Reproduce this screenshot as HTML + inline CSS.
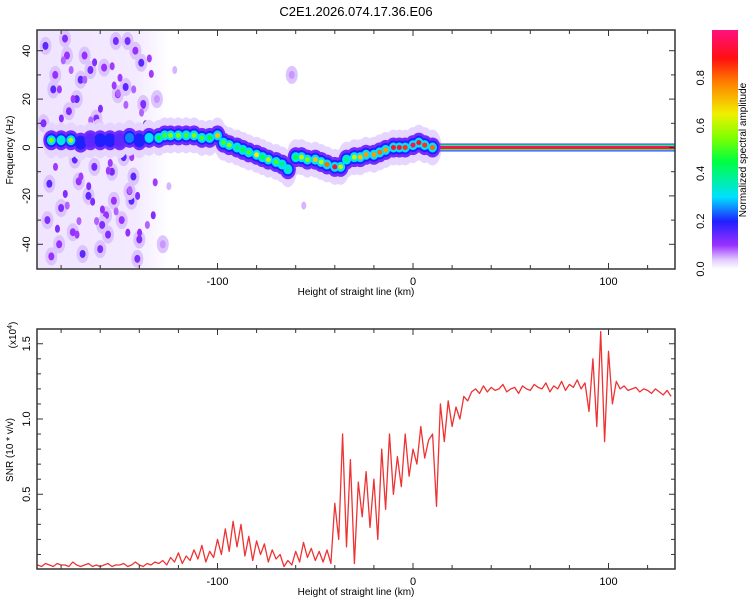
<!DOCTYPE html>
<html><head><meta charset="utf-8"><style>
body{margin:0;background:#fff;}
svg{display:block;font-family:"Liberation Sans",sans-serif;}
</style></head><body>
<svg id="chart" width="750" height="600" viewBox="0 0 750 600">
<defs>
<clipPath id="clipTop"><rect x="37" y="30" width="638" height="239"/></clipPath>
<clipPath id="clipBot"><rect x="37" y="329" width="638" height="240"/></clipPath>
<linearGradient id="cbar" x1="0" y1="1" x2="0" y2="0">
<stop offset="0" stop-color="#ffffff"/><stop offset="0.04" stop-color="#e0c8ff"/>
<stop offset="0.1" stop-color="#9a30ff"/><stop offset="0.2" stop-color="#2020ff"/>
<stop offset="0.3" stop-color="#00e0ff"/><stop offset="0.45" stop-color="#00ff40"/>
<stop offset="0.55" stop-color="#80ff00"/><stop offset="0.65" stop-color="#f0f000"/>
<stop offset="0.78" stop-color="#ff8000"/><stop offset="0.88" stop-color="#ff1010"/>
<stop offset="1" stop-color="#ff1080"/></linearGradient>
<linearGradient id="nfade" x1="0" y1="0" x2="1" y2="0">
<stop offset="0" stop-color="#f0e4ff"/><stop offset="0.75" stop-color="#f3eaff"/><stop offset="1" stop-color="#ffffff"/></linearGradient>
</defs>
<text x="356" y="16" font-size="13" text-anchor="middle">C2E1.2026.074.17.36.E06</text>
<g id="topPanel"></g>
<g id="botPanel"></g>
<g id="cbPanel"></g>
</svg>
<script>
const xTicksMajor=[-100,0,100];
const topYTicks=[-40,-20,0,20,40];
const botYTicks=[0.5,1.0,1.5];
const cbTicks=[0.0,0.2,0.4,0.6,0.8];
// ridge of spectrogram
const ridgeKm=[-185,-180,-175,-170,-165,-160,-155,-150,-145,-140,-135,-130,-127,-124,-120,-116,-112,-108,-104,-100,-97,-94,-90,-87,-84,-80,-77,-74,-70,-67,-64,-60,-57,-54,-50,-47,-44,-40,-37,-34,-30,-27,-24,-20,-17,-14,-10,-7,-4,0,3,6,10];
const ridgeHz=[3,3,3,2,3,3,3,3,4,3,4,4,5,5,5,5,5,4,4,5,2,1,0,-1,-2,-3,-4,-5,-6,-7,-9,-4,-4,-5,-5,-6,-7,-8,-8,-5,-4,-4,-3,-3,-2,-1,0,0,0,1,2,1,0];
const ridgeAmp=[0.55,0.35,0.6,0.2,0.15,0.2,0.2,0.15,0.25,0.2,0.3,0.45,0.5,0.55,0.55,0.5,0.55,0.5,0.45,0.7,0.5,0.55,0.4,0.45,0.5,0.65,0.45,0.6,0.5,0.4,0.35,0.45,0.6,0.55,0.7,0.6,0.8,0.9,0.6,0.4,0.6,0.7,0.75,0.75,0.8,0.75,0.9,0.9,0.85,0.95,0.9,0.85,0.8];
const lineStartKm=12, lineHz=0, lineAmp=0.95;
// noise speckles (left region)
const noiseKm=[-188,-183,-178,-172,-168,-162,-158,-152,-147,-142,-138,-186,-180,-174,-166,-160,-154,-149,-144,-140,-185,-176,-170,-163,-157,-150,-145,-139,-189,-181,-173,-165,-156,-151,-143,-187,-177,-169,-161,-153,-146,-141,-184,-171,-159,-148,-62,-128,-131];
const noiseHz=[42,30,45,20,38,12,33,44,25,40,18,-15,-25,-35,-20,-42,-10,-30,-22,-38,-45,15,28,-8,-28,5,-18,35,10,-40,-5,32,-36,22,-12,-30,38,-44,8,-22,44,-46,24,-14,-32,-4,30,-40,20];
const noiseAmp=[0.15,0.1,0.12,0.15,0.1,0.12,0.1,0.13,0.15,0.1,0.12,0.15,0.12,0.1,0.15,0.12,0.13,0.1,0.15,0.12,0.1,0.12,0.15,0.13,0.1,0.12,0.1,0.15,0.12,0.1,0.15,0.13,0.12,0.1,0.15,0.12,0.1,0.15,0.12,0.1,0.13,0.12,0.15,0.1,0.12,0.15,0.06,0.06,0.06];
const noiseFieldKm=[-192,-125];
// SNR series (x1e4), 2 km step starting at -192
const snrStartKm=-192, snrStepKm=2;
const snrValues=[0.03,0.02,0.04,0.03,0.02,0.04,0.03,0.03,0.02,0.05,0.03,0.02,0.03,0.04,0.02,0.03,0.02,0.03,0.04,0.02,0.03,0.03,0.04,0.02,0.03,0.05,0.03,0.02,0.04,0.03,0.05,
0.04,0.06,0.03,0.08,0.05,0.11,0.04,0.09,0.06,0.13,
0.07,0.16,0.05,0.12,0.08,0.2,0.1,0.27,0.12,0.32,0.15,0.3,0.09,0.22,0.06,0.19,
0.1,0.17,0.05,0.13,0.07,0.1,0.02,0.06,0.03,
0.12,0.05,0.18,0.08,0.14,0.06,0.12,0.05,0.13,0.04,
0.44,0.2,0.9,0.15,0.73,0.04,
0.58,0.35,0.65,0.28,0.6,0.2,0.8,0.4,0.9,0.5,0.75,0.55,0.9,0.62,0.8,0.7,0.95,0.74,0.86,
0.9,0.42,
1.1,0.85,1.12,0.95,1.08,1.0,1.15,1.12,1.18,
1.2,1.17,1.22,1.18,1.21,1.19,1.2,1.23,1.18,1.2,1.21,1.17,1.22,1.2,1.19,1.23,1.21,1.2,1.24,1.18,1.22,1.2,1.25,1.19,1.23,1.21,1.26,1.2,1.24,
1.05,1.4,0.95,1.58,0.85,1.45,
1.1,1.25,1.2,1.22,1.19,1.2,1.21,1.18,1.2,1.19,1.17,1.2,1.18,1.16,1.19,1.15];

const NS='http://www.w3.org/2000/svg';
function mk(tag,attrs,parent){const e=document.createElementNS(NS,tag);for(const k in attrs)e.setAttribute(k,attrs[k]);parent.appendChild(e);return e;}
const L=37,R=675;
const xS=km=>413+(km)*1.955;
const yTop=hz=>147.5-hz*2.42;
const yBot=v=>569.5-v*150.5;
function cmap(a){
 const st=[[0,[255,255,255]],[0.04,[224,200,255]],[0.1,[154,48,255]],[0.2,[32,32,255]],[0.3,[0,224,255]],[0.45,[0,255,64]],[0.55,[128,255,0]],[0.65,[240,240,0]],[0.78,[255,128,0]],[0.88,[255,16,16]],[1,[255,16,128]]];
 for(let i=1;i<st.length;i++){if(a<=st[i][0]){const t=(a-st[i-1][0])/(st[i][0]-st[i-1][0]);const c=st[i-1][1].map((v,j)=>Math.round(v+(st[i][1][j]-v)*t));return `rgb(${c})`;}}
 return 'rgb(255,16,128)';
}
const topG=document.getElementById('topPanel'), botG=document.getElementById('botPanel'), cbG=document.getElementById('cbPanel');
// ----- top panel
const tg=mk('g',{'clip-path':'url(#clipTop)'},topG);
const nf=mk('rect',{x:xS(noiseFieldKm[0]),y:30,width:xS(noiseFieldKm[1])-xS(noiseFieldKm[0]),height:239,fill:'url(#nfade)'},tg);


for(let i=0;i<noiseKm.length;i++){
 const cx=xS(noiseKm[i]), cy=yTop(noiseHz[i]);
 const e=mk('ellipse',{cx:cx,cy:cy,rx:6,ry:9,fill:'#dcc4ff'},tg);
 
 
 const d=mk('ellipse',{cx:cx,cy:cy,rx:3,ry:4,fill:cmap(noiseAmp[i])},tg);
 
 
}
for(let i=0;i<noiseKm.length;i++){
 const cx=xS(noiseKm[i])+12, cy=yTop(-noiseHz[i]*0.8);
 const d=mk('ellipse',{cx:cx,cy:cy,rx:2.5,ry:4,fill:cmap(noiseAmp[i]*0.8)},tg);
 
 
}
// ridge haze
for(let i=0;i<ridgeKm.length;i++){
 const e=mk('ellipse',{cx:xS(ridgeKm[i]),cy:yTop(ridgeHz[i]),rx:9,ry:18,fill:'#e6d6ff'},tg);
 
 
}
// constant line
const lx=xS(lineStartKm), ly=yTop(lineHz);
[[0.15,4],[0.28,3.2],[0.5,2.4],[lineAmp,1.5]].forEach(([a,h])=>{
 const r=mk('rect',{x:lx,y:ly-h,width:R-lx,height:2*h,fill:cmap(a)},tg);
 
 
});
const layers=[[0.13,8,10],[0.2,6,7],[0.3,4.5,5],[1,2.5,2.5]];
layers.forEach(([f,rx,ry],li)=>{
 for(let i=0;i<ridgeKm.length;i++){
  const a=ridgeAmp[i]; const amp = li===layers.length-1? a : Math.min(a,f);
  const cx=xS(ridgeKm[i]), cy=yTop(ridgeHz[i]);
  const e=mk('ellipse',{cx:cx,cy:cy,rx:rx,ry:ry,fill:cmap(amp)},tg);
  
  
 }
});
mk('rect',{x:L,y:30,width:R-L,height:239,fill:'none',stroke:'#333','stroke-width':1.5},topG);
function xAxis(g,y0,y1,lblY){
 for(let km=-180;km<=130;km+=20){
  const x=xS(km); const maj=xTicksMajor.includes(km);
  mk('line',{x1:x,y1:y1,x2:x,y2:y1-(maj?6:4),stroke:'#333'},g);
  mk('line',{x1:x,y1:y0,x2:x,y2:y0+(maj?6:4),stroke:'#333'},g);
 }
 xTicksMajor.forEach(km=>{const t=mk('text',{x:xS(km),y:lblY,'font-size':11,'text-anchor':'middle'},g);t.textContent=km;
  });
 const t=mk('text',{x:356,y:lblY+10,'font-size':10,'text-anchor':'middle'},g);t.textContent='Height of straight line (km)';
 
}
xAxis(topG,30,269,285);
for(let hz=-40;hz<=40;hz+=10){const y=yTop(hz);const maj=hz%20===0;
 mk('line',{x1:L,y1:y,x2:L+(maj?6:4),y2:y,stroke:'#333'},topG);mk('line',{x1:R,y1:y,x2:R-(maj?6:4),y2:y,stroke:'#333'},topG);}
topYTicks.forEach(hz=>{const y=yTop(hz);const t=mk('text',{x:30,y:y,'font-size':11,'text-anchor':'middle',transform:`rotate(-90 30 ${y})`},topG);t.textContent=hz;
 });
let yt=mk('text',{x:13,y:150,'font-size':10,'text-anchor':'middle',transform:'rotate(-90 13 150)'},topG);yt.textContent='Frequency (Hz)';

// ----- bottom panel
const bg=mk('g',{'clip-path':'url(#clipBot)'},botG);
let d='';
snrValues.forEach((v,i)=>{const x=xS(snrStartKm+i*snrStepKm);d+=(i?'L':'M')+x.toFixed(1)+' '+yBot(v).toFixed(1);});
const pl=mk('path',{d:d,fill:'none',stroke:'#ee3333','stroke-width':1.3,'stroke-linejoin':'round'},bg);


mk('rect',{x:L,y:329,width:R-L,height:240,fill:'none',stroke:'#333','stroke-width':1.5},botG);
xAxis(botG,329,569,585);
for(let k=1;k<=15;k++){const v=k/10,y=yBot(v);const maj=k%5===0;
 mk('line',{x1:L,y1:y,x2:L+(maj?6:4),y2:y,stroke:'#333'},botG);mk('line',{x1:R,y1:y,x2:R-(maj?6:4),y2:y,stroke:'#333'},botG);}
botYTicks.forEach(v=>{const y=yBot(v);const t=mk('text',{x:30,y:y,'font-size':11,'text-anchor':'middle',transform:`rotate(-90 30 ${y})`},botG);t.textContent=v.toFixed(1);
 });
yt=mk('text',{x:13,y:450,'font-size':10,'text-anchor':'middle',transform:'rotate(-90 13 450)'},botG);yt.textContent='SNR (10 * v/v)';

yt=mk('text',{x:16,y:335,'font-size':10,'text-anchor':'middle',transform:'rotate(-90 16 335)'},botG);yt.innerHTML='(x10<tspan font-size="7" dy="-4">4</tspan><tspan dy="4">)</tspan>';

// ----- colorbar
const cr=mk('rect',{x:712,y:30,width:26,height:239,fill:'url(#cbar)'},cbG);

cbTicks.forEach(v=>{const y=269-v*239;const t=mk('text',{x:704,y:y,'font-size':11,'text-anchor':'middle',transform:`rotate(-90 704 ${y})`},cbG);t.textContent=v.toFixed(1);
 });
yt=mk('text',{x:746,y:150,'font-size':10,'text-anchor':'middle',transform:'rotate(-90 746 150)'},cbG);yt.textContent='Normalized spectral amplitude';

</script>
</body></html>
